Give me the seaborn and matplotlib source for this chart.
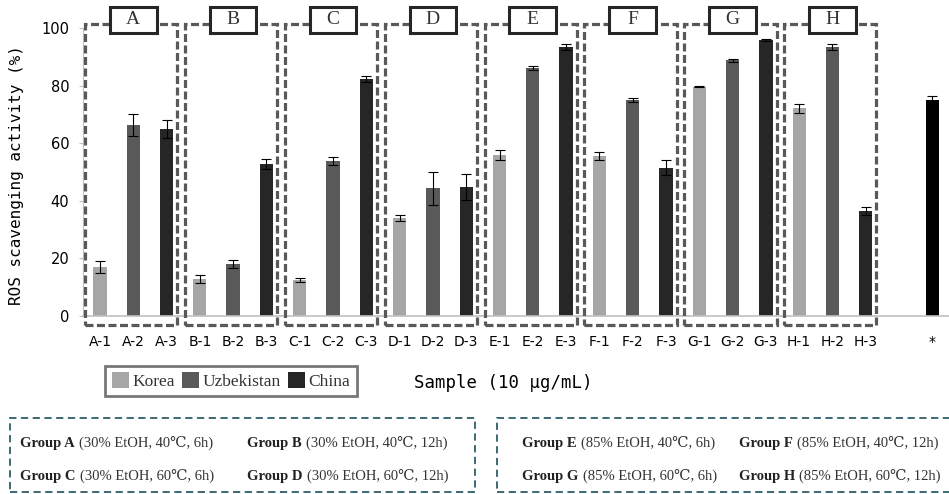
import pandas as pd
import matplotlib
matplotlib.use("Agg")
import matplotlib.pyplot as plt
from matplotlib.patches import Rectangle, Patch
import seaborn as sns

groups = ["A", "B", "C", "D", "E", "F", "G", "H"]
origins = ["Korea", "Uzbekistan", "China"]
korea = [17.0, 12.8, 12.5, 34.1, 55.9, 55.6, 79.6, 72.1]
uzbek = [66.3, 18.0, 53.9, 44.3, 86.2, 75.0, 88.8, 93.4]
china = [65.0, 52.7, 82.3, 44.8, 93.4, 51.5, 95.9, 36.5]
korea_sd = [2.2, 1.4, 0.6, 1.1, 1.6, 1.4, 0.2, 1.5]
uzbek_sd = [3.9, 1.4, 1.4, 5.8, 0.7, 0.8, 0.5, 1.1]
china_sd = [3.2, 1.8, 1.1, 4.6, 1.0, 2.7, 0.4, 1.5]
control_label = "*"
control_value = 75.0
control_sd = 1.3

conditions = {
    "A": "(30% EtOH, 40℃, 6h)", "B": "(30% EtOH, 40℃, 12h)",
    "C": "(30% EtOH, 60℃, 6h)", "D": "(30% EtOH, 60℃, 12h)",
    "E": "(85% EtOH, 40℃, 6h)", "F": "(85% EtOH, 40℃, 12h)",
    "G": "(85% EtOH, 60℃, 6h)", "H": "(85% EtOH, 60℃, 12h)",
}

colors = {"Korea": "#a6a6a6", "Uzbekistan": "#595959", "China": "#262626",
          "Control": "#000000"}

rows = []
series = [korea, uzbek, china]
series_sd = [korea_sd, uzbek_sd, china_sd]
for gi, g in enumerate(groups):
    for oi, o in enumerate(origins):
        rows.append({"sample": f"{g}-{oi + 1}", "value": series[oi][gi],
                     "sd": series_sd[oi][gi], "origin": o})
rows.append({"sample": control_label, "value": control_value,
             "sd": control_sd, "origin": "Control"})
df = pd.DataFrame(rows)

# one empty slot before the control bar
order = list(df["sample"][:-1]) + [" ", control_label]

W, H = 949, 494
fig = plt.figure(figsize=(W / 100, H / 100), dpi=100)
fig.patch.set_facecolor("white")


def fx(px):
    return px / W


def fy(py):
    return 1 - py / H


ax = fig.add_axes([fx(83.3), fy(316), (W - 83.3) / W, 288 / H])
sns.barplot(data=df, x="sample", y="value", hue="origin", order=order,
            palette=colors, dodge=False, width=0.4, saturation=1,
            legend=False, ax=ax, edgecolor="none")

pos = [order.index(s) for s in df["sample"]]
ax.errorbar(pos, df["value"], yerr=df["sd"], fmt="none", ecolor="black",
            elinewidth=0.8, capsize=3.5, capthick=0.8, zorder=5)

ax.set_xlim(-0.5, len(order) - 0.5)
ax.set_ylim(0, 100)
ax.set_yticks(range(0, 101, 20))
ax.set_xlabel("")
ax.set_ylabel("")
for s in ["top", "right"]:
    ax.spines[s].set_visible(False)
ax.spines["left"].set_color("#c0c0c0")
ax.spines["bottom"].set_color("#c0c0c0")
ax.spines["bottom"].set_linewidth(1.2)
ax.tick_params(axis="y", length=3, color="#c0c0c0", pad=7, labelsize=10.5)
ax.tick_params(axis="x", length=0, pad=14, labelsize=10)

# dashed group frames with lettered tags
dash = (0, (2.5, 1.1))
for gi, g in enumerate(groups):
    left = gi * 3 - 0.5 + 0.05
    right = gi * 3 - 0.5 + 2.82
    ax.add_patch(Rectangle((left, -3.1), right - left, 104.5, fill=False,
                           edgecolor="#595959", lw=2.3, ls=dash,
                           clip_on=False, zorder=3))
    cx = gi * 3 + 1
    ax.add_patch(Rectangle((cx - 0.7, 98.3), 1.4, 9.0, facecolor="white",
                           edgecolor="#262626", lw=2.2, clip_on=False,
                           zorder=4))
    ax.text(cx, 102.8, g, ha="center", va="center", fontsize=14,
            family=["Liberation Serif", "DejaVu Serif"], color="#333333",
            zorder=5, clip_on=False)

fig.text(fx(17), fy(175), "ROS scavenging activity (%)", rotation=90,
         ha="center", va="center", fontsize=11.5, family="DejaVu Sans Mono")
fig.text(fx(503), fy(383), "Sample (10 μg/mL)", ha="center", va="center",
         fontsize=12.5, family="DejaVu Sans Mono")

handles = [Patch(facecolor=colors[o], edgecolor="none", label=o)
           for o in origins]
leg = fig.legend(handles=handles, loc="center",
                 bbox_to_anchor=(fx(231), fy(381)), ncol=3, frameon=True,
                 fancybox=False, edgecolor="#555555", handlelength=1.0,
                 handleheight=1.0, handletextpad=0.2, columnspacing=0.4,
                 borderpad=0.35, borderaxespad=0,
                 prop={"family": "Liberation Serif", "size": 12.5})
leg.get_frame().set_linewidth(2)
for t in leg.get_texts():
    t.set_color("#333333")

# condition boxes at the bottom
box_color = "#2f5d6b"
for x0, x1 in [(10, 475), (497, 960)]:
    fig.add_artist(Rectangle((fx(x0), fy(492)), (x1 - x0) / W, 74 / H,
                             transform=fig.transFigure, fill=False,
                             edgecolor=box_color, lw=1.3,
                             ls=(0, (4, 2.5))))

serif = ["Liberation Serif", "DejaVu Serif", "DejaVu Sans"]
layout = [("A", 20, 443), ("B", 247, 443),
          ("C", 20, 476), ("D", 247, 476),
          ("E", 522, 443), ("F", 739, 443),
          ("G", 522, 476), ("H", 739, 476)]
for g, xb, yy in layout:
    bold = fig.text(fx(xb), fy(yy), f"Group {g}", ha="left", va="center",
                    fontsize=10.5, family=serif, weight="bold",
                    color="#222222")
    # condition text follows right after the bold group name
    fig.add_artist(plt.Annotation(conditions[g], xy=(1, 0.5), xycoords=bold,
                                  xytext=(3, 0), textcoords="offset points",
                                  ha="left", va="center", fontsize=10.5,
                                  family=serif, color="#333333",
                                  annotation_clip=False))

fig.savefig("out.png", dpi=100, facecolor="white")
